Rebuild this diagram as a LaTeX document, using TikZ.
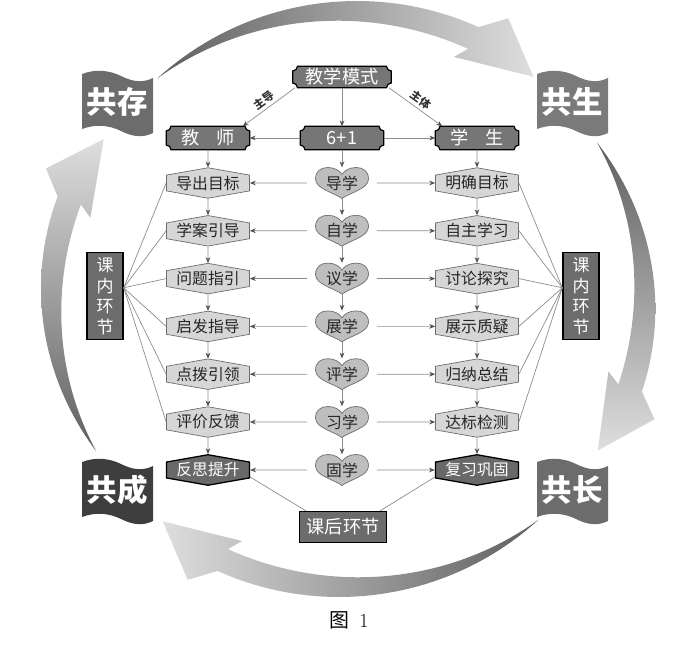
\documentclass[tikz,border=0pt]{standalone}
\usepackage{fontspec}
\newfontfamily\cjk{Noto Sans CJK SC}
\usetikzlibrary{shapes.symbols,arrows.meta,backgrounds}

\definecolor{linegray}{RGB}{140,140,140}
\definecolor{tipgray}{RGB}{80,80,80}
\definecolor{plaquegray}{RGB}{118,118,118}
\definecolor{stagefill}{RGB}{214,214,214}
\definecolor{stageline}{RGB}{110,110,110}
\definecolor{darkfill}{RGB}{105,105,105}
\definecolor{heartfill}{RGB}{190,190,190}
\definecolor{boxgray}{RGB}{108,108,108}
\definecolor{flagA}{RGB}{108,108,108}
\definecolor{flagB}{RGB}{122,122,122}
\definecolor{flagC}{RGB}{62,62,62}
\definecolor{flagD}{RGB}{108,108,108}
\definecolor{ringdark}{RGB}{95,95,95}
\definecolor{ringlight}{RGB}{222,222,222}

% frame with hollow corners round a plaque node
\newcommand\plaqueframe[1]{%
  \draw[plaqueline] ([xshift=4pt]#1.north west) -- ([xshift=-4pt]#1.north east)
    arc[start angle=180,end angle=270,radius=4pt] -- ([yshift=4pt]#1.south east)
    arc[start angle=90,end angle=180,radius=4pt] -- ([xshift=4pt]#1.south west)
    arc[start angle=0,end angle=90,radius=4pt] -- ([yshift=-4pt]#1.north west)
    arc[start angle=270,end angle=360,radius=4pt] -- cycle;}

% heart behind a heart node
\newcommand\heartframe[1]{%
  \begin{scope}[shift={(#1.center)}]
    \draw[heartline] (0,-15.5) .. controls (-7,-10) and (-26.5,-6) .. (-26.5,4)
      .. controls (-26.5,12) and (-21,15.5) .. (-14,15.5)
      .. controls (-7,15.5) and (-2,12) .. (0,8.5)
      .. controls (2,12) and (7,15.5) .. (14,15.5)
      .. controls (21,15.5) and (26.5,12) .. (26.5,4)
      .. controls (26.5,-6) and (7,-10) .. (0,-15.5) -- cycle;
  \end{scope}}

% big shaded arrow on the ring: #1 tail angle, #2 tip angle, #3 shading
\newcommand\ringarrow[3]{%
  \pgfmathsetmacro\headbase{#2+14}
  \shade[#3] plot[domain=0:1, samples=40, variable=\s] ({#1-(#1-\headbase)*\s}:{288+12*sin(90*\s)})
    -- (#2+10:321) -- (#2:286) -- (#2+16:263)
    -- plot[domain=0:1, samples=40, variable=\s] ({\headbase+(#1-\headbase)*\s}:{288-12*sin(90*(1-\s))})
    -- cycle;}

\begin{document}
\begin{tikzpicture}[x=0.03cm, y=0.03cm,
    link/.style={draw=linegray, line width=0.6pt},
    flow/.style={link, -{Stealth[length=5pt,width=4pt,color=tipgray]}},
    flowback/.style={link, {Stealth[length=5pt,width=4pt,color=tipgray]}-},
    plaque/.style={minimum width=2.49cm, minimum height=0.69cm, inner sep=0pt,
      text=white, font=\cjk\fontsize{15.5}{16}\selectfont},
    plaqueline/.style={draw=black, line width=1pt, fill=plaquegray},
    stagebox/.style={signal, signal to=north and south, signal pointer angle=160,
      draw=stageline, fill=stagefill, line width=0.6pt, minimum width=2.49cm,
      minimum height=0.81cm, inner sep=0pt, text=black!85,
      font=\cjk\fontsize{13.5}{14}\selectfont},
    stagedark/.style={stagebox, draw=black, line width=1.1pt, fill=darkfill, text=white},
    heart/.style={minimum width=1.59cm, minimum height=0.93cm, inner sep=0pt,
      text=black!85, font=\cjk\fontsize{13.5}{14}\selectfont},
    heartline/.style={draw=stageline, line width=0.6pt, fill=heartfill},
    sidebox/.style={draw=black, line width=1.2pt, fill=boxgray, text=white,
      minimum width=1.08cm, minimum height=2.61cm, inner sep=0pt, align=center,
      font=\cjk\fontsize{14.5}{17.5}\selectfont},
    afterbox/.style={sidebox, minimum width=2.61cm, minimum height=0.93cm,
      font=\cjk\fontsize{15.5}{16}\selectfont},
    flagtext/.style={text=white, font=\cjk\bfseries\fontsize{26}{26}\selectfont},
    guide/.style={inner sep=0.5pt, text=black!80, font=\cjk\bfseries\fontsize{9.5}{10}\selectfont}]

  \useasboundingbox (0,0) rectangle (687,-655);

  % ring of arrows
  \begin{scope}[shift={(348,-299)}, xscale=1.03]
    \ringarrow{130}{51}{left color=ringdark, right color=ringlight}
    \ringarrow{33}{-32}{top color=ringdark, bottom color=ringlight}
    \ringarrow{-50}{-129}{right color=ringdark, left color=ringlight}
    \ringarrow{212}{146}{bottom color=ringdark, top color=ringlight}
  \end{scope}

  % flags
  \foreach \n/\x/\y/\c/\t in {cun/117/-102/flagA/共存, sheng/572/-102/flagB/共生,
      cheng/117/-490/flagC/共成, zhang/572/-490/flagD/共长}{
    \begin{scope}[shift={(\x,\y)}]
      \fill[\c] (-35,28) .. controls (-22,33) and (-8,32) .. (4,26)
        .. controls (16,20) and (26,19) .. (36,24) -- (36,-31)
        .. controls (26,-36) and (16,-35) .. (4,-29)
        .. controls (-8,-23) and (-22,-22) .. (-35,-27) -- cycle;
      \node[flagtext] (\n) at (0,0) {\t};
    \end{scope}
  }

  % head of the model
  \node[plaque, minimum width=2.94cm, minimum height=0.63cm] (mode) at (342,-77) {教学模式};
  \node[plaque] (teacher) at (208,-138) {教\hspace{0.9em}师};
  \node[plaque] (six) at (342,-138) {6+1};
  \node[plaque] (student) at (477,-138) {学\hspace{0.9em}生};

  % the seven steps
  \foreach \i/\l/\m/\r in {1/导出目标/导学/明确目标, 2/学案引导/自学/自主学习,
      3/问题指引/议学/讨论探究, 4/启发指导/展学/展示质疑, 5/点拨引领/评学/归纳总结,
      6/评价反馈/习学/达标检测}{
    \pgfmathsetmacro\yy{-183-47.8*(\i-1)}
    \node[stagebox] (t\i) at (208,\yy) {\l};
    \node[heart] (h\i) at (342,\yy) {\m};
    \node[stagebox] (s\i) at (477,\yy) {\r};
  }
  \node[stagedark] (t7) at (208,-470) {反思提升};
  \node[heart] (h7) at (342,-470) {固学};
  \node[stagedark] (s7) at (477,-470) {复习巩固};

  \node[sidebox] (inleft) at (105,-296) {课\\内\\环\\节};
  \node[sidebox] (inright) at (581,-296) {课\\内\\环\\节};
  \node[afterbox] (after) at (343,-527) {课后环节};

  \node[font=\fontsize{17}{17}\selectfont] (fig) at (349,-620) {{\cjk 图}\hspace{0.5em}1};

  % connectors
  \path ([xshift=-6pt]teacher.north east) edge[flowback] node[guide, sloped, above=2pt] {主导} ([xshift=2pt]mode.south west);
  \path ([xshift=-2pt]mode.south east) edge[flow] node[guide, sloped, above=2pt] {主体} ([xshift=6pt]student.north west);
  \path (mode) edge[flow] (six);
  \path (six) edge[flow] (teacher);
  \path (six) edge[flow] (student);
  \path (teacher) edge[flow] (t1);
  \path (six) edge[flow] (h1);
  \path (student) edge[flow] (s1);

  \foreach \i [count=\j from 2] in {1,...,6}{
    \path (t\i) edge[flow] (t\j);
    \path (h\i) edge[flow] (h\j);
    \path (s\i) edge[flow] (s\j);
  }
  \foreach \i in {1,...,7}{
    \path (h\i) edge[flow, shorten <=7pt] (t\i);
    \path (h\i) edge[flow, shorten <=7pt] (s\i);
  }
  \foreach \i in {1,...,6}{
    \path ([yshift=7pt]inleft.east) edge[link] (t\i.west);
    \path ([yshift=7pt]inright.west) edge[link] (s\i.east);
  }
  \path ([yshift=-6pt]t7.east) edge[link] ([xshift=6pt]after.north west);
  \path ([yshift=-6pt]s7.west) edge[link] ([xshift=-6pt]after.north east);

  \begin{scope}[on background layer]
    \foreach \i in {1,...,7}{\heartframe{h\i}}
    \foreach \n in {mode,teacher,six,student}{\plaqueframe{\n}}
  \end{scope}

\end{tikzpicture}
\end{document}
